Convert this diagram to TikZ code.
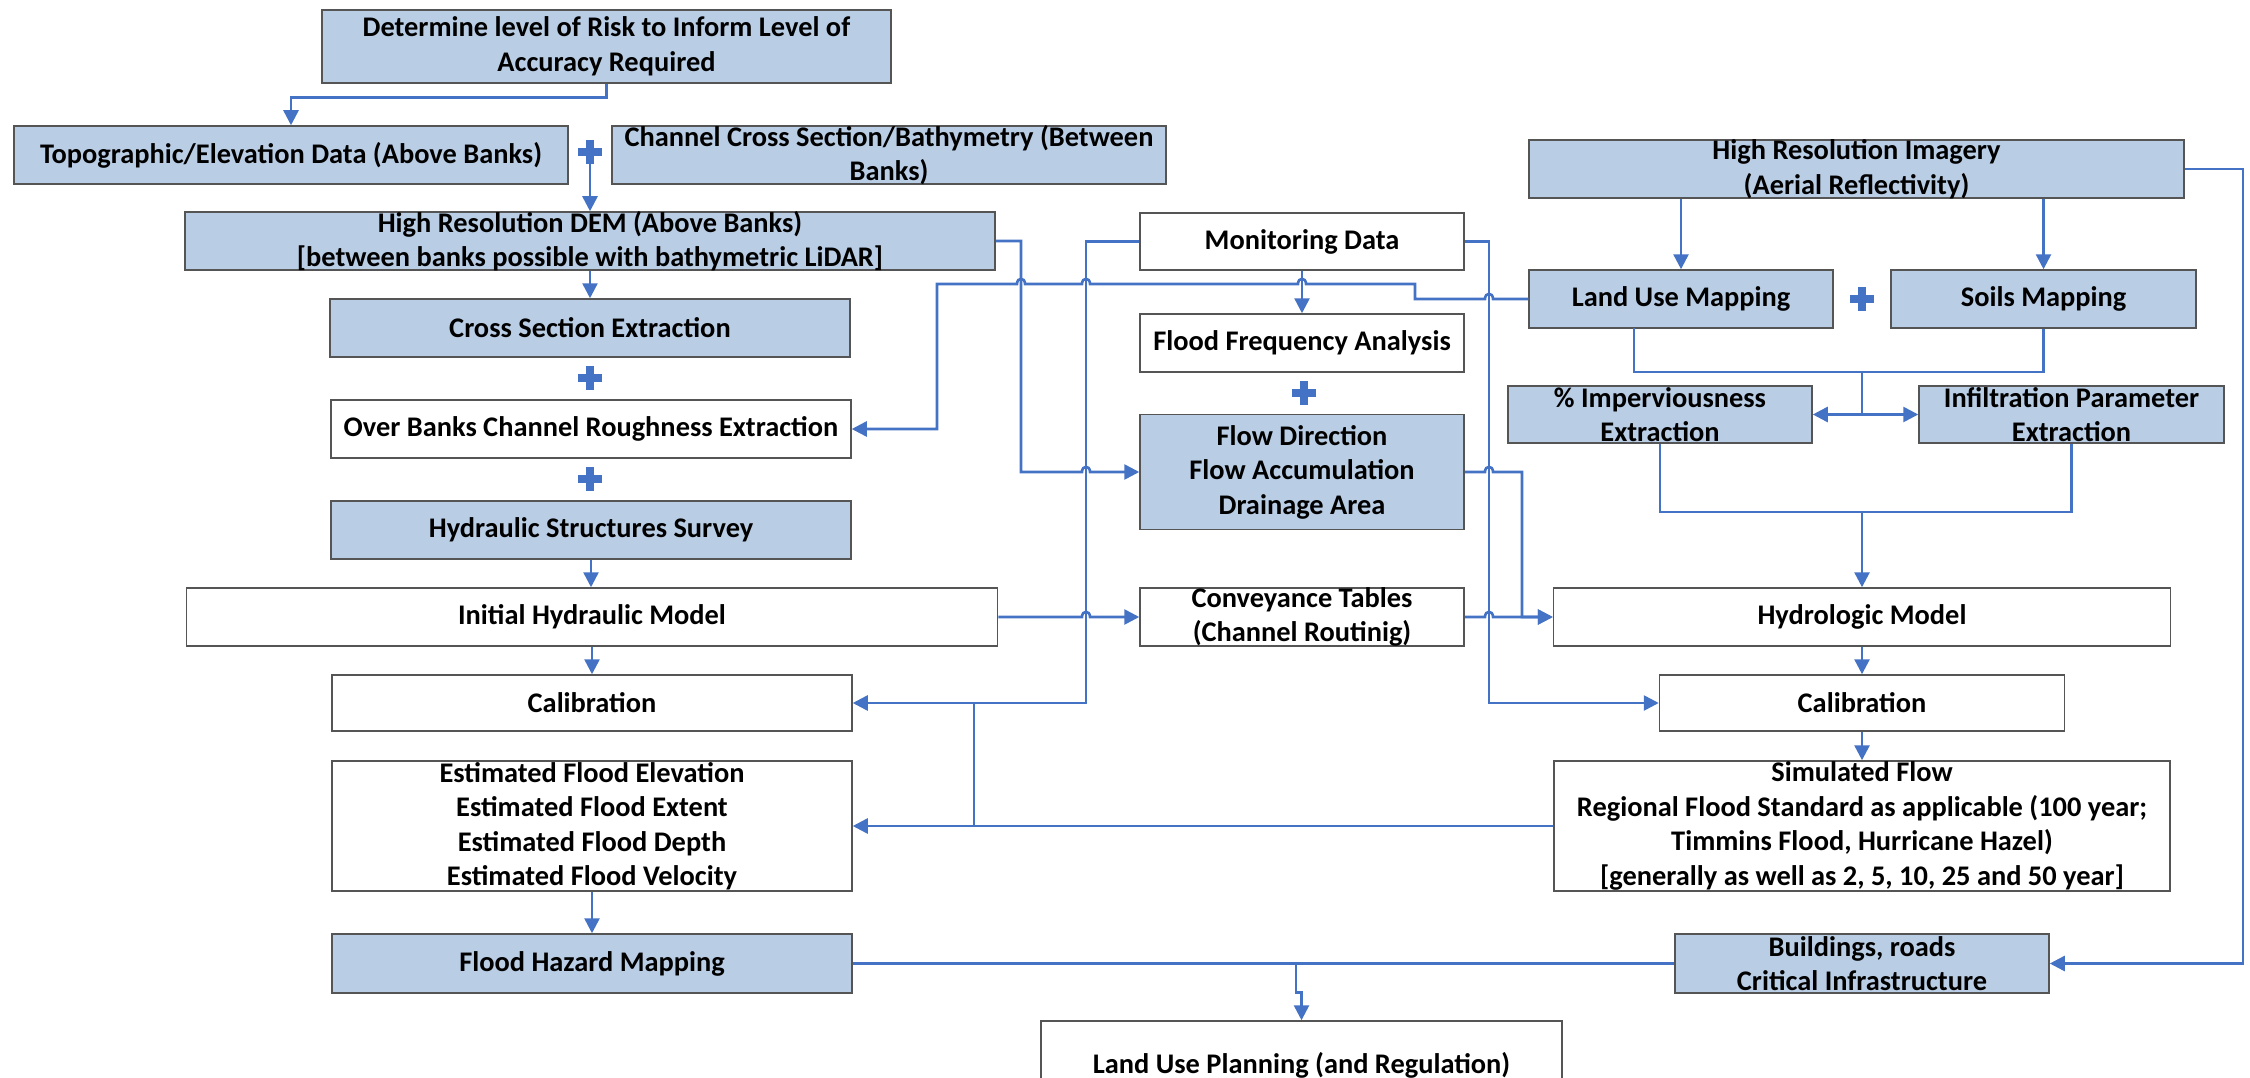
\documentclass[tikz,border=0pt]{standalone}
\usepackage{fontspec}
\setmainfont{Carlito}
\usetikzlibrary{arrows.meta,calc}
\definecolor{boxblue}{RGB}{185,205,229}
\definecolor{linkblue}{RGB}{68,114,196}
\definecolor{boxedge}{RGB}{85,85,85}
\newcommand{\hopl}[1]{-- ($(#1)+(4,0)$) .. controls +(0,-7) and +(0,-7) .. ($(#1)+(-4,0)$)}
\newcommand{\hopr}[1]{-- ($(#1)+(-4,0)$) .. controls +(0,-7) and +(0,-7) .. ($(#1)+(4,0)$)}

\begin{document}
\begin{tikzpicture}[x=1pt,y=-1pt,
	box/.style={draw=boxedge,line width=1.5pt,align=center,inner xsep=0pt,inner ysep=-3pt,font=\fontsize{28.4}{34.5}\selectfont\bfseries},
	bluebox/.style={box,fill=boxblue},
	whitebox/.style={box,fill=white},
	link/.style={draw=linkblue,line width=2.6pt},
	arr/.style={link,-{Triangle[width=15pt,length=15pt]}},
	arrs/.style={link,{Triangle[width=15pt,length=15pt]}-{Triangle[width=15pt,length=15pt]}},
	plusline/.style={draw=linkblue,line width=7.5pt}]
	\useasboundingbox (0,0) rectangle (2250,1078);
	\clip (0,0) rectangle (2250,1078);
	\node[bluebox,minimum width=569,minimum height=73] (R) at (606.5,46.5) {Determine level of Risk to Inform Level of\\Accuracy Required};
	\node[bluebox,minimum width=554,minimum height=58] (T) at (291,155) {Topographic/Elevation Data (Above Banks)};
	\node[bluebox,minimum width=554,minimum height=58] (C) at (889,155) {Channel Cross Section/Bathymetry (Between\\Banks)};
	\node[bluebox,minimum width=810,minimum height=58] (D) at (590,241) {High Resolution DEM (Above Banks)\\{[}between banks possible with bathymetric LiDAR{]}};
	\node[bluebox,minimum width=520,minimum height=58] (X) at (590,328) {Cross Section Extraction};
	\node[whitebox,minimum width=520,minimum height=58] (O) at (591,429) {Over Banks Channel Roughness Extraction};
	\node[bluebox,minimum width=520,minimum height=58] (S) at (591,530) {Hydraulic Structures Survey};
	\node[whitebox,minimum width=811,minimum height=58] (H) at (592,617) {Initial Hydraulic Model};
	\node[whitebox,minimum width=520,minimum height=56] (L1) at (592,703) {Calibration};
	\node[whitebox,minimum width=520,minimum height=130] (E) at (592,826) {Estimated Flood Elevation\\Estimated Flood Extent\\Estimated Flood Depth\\Estimated Flood Velocity};
	\node[bluebox,minimum width=520,minimum height=59] (F) at (592,963.5) {Flood Hazard Mapping};
	\node[whitebox,minimum width=521,minimum height=88] (P) at (1301.5,1065) {Land Use Planning (and Regulation)};
	\node[whitebox,minimum width=324,minimum height=57] (M) at (1302,241.5) {Monitoring Data};
	\node[whitebox,minimum width=324,minimum height=58] (Q) at (1302,343) {Flood Frequency Analysis};
	\node[bluebox,minimum width=324,minimum height=115] (W) at (1302,472) {Flow Direction\\Flow Accumulation\\Drainage Area};
	\node[whitebox,minimum width=324,minimum height=58] (V) at (1302,617) {Conveyance Tables\\(Channel Routinig)};
	\node[bluebox,minimum width=655,minimum height=58] (I) at (1856.5,169) {High Resolution Imagery\\(Aerial Reflectivity)};
	\node[bluebox,minimum width=304,minimum height=58] (U) at (1681,299) {Land Use Mapping};
	\node[bluebox,minimum width=305,minimum height=58] (G) at (2043.5,299) {Soils Mapping};
	\node[bluebox,minimum width=304,minimum height=57] (K) at (1660,414.5) {\% Imperviousness\\Extraction};
	\node[bluebox,minimum width=305,minimum height=57] (N) at (2071.5,414.5) {Infiltration Parameter\\Extraction};
	\node[whitebox,minimum width=617,minimum height=58] (Y) at (1862,617) {Hydrologic Model};
	\node[whitebox,minimum width=405,minimum height=56] (L2) at (1862,703) {Calibration};
	\node[whitebox,minimum width=616,minimum height=130] (Z) at (1862,826) {Simulated Flow\\Regional Flood Standard as applicable (100 year;\\Timmins Flood, Hurricane Hazel)\\{[}generally as well as 2, 5, 10, 25 and 50 year{]}};
	\node[bluebox,minimum width=374,minimum height=59] (B) at (1862,963.5) {Buildings, roads\\Critical Infrastructure};
	\coordinate (p1) at (590,152);
	\coordinate (p2) at (590,378);
	\coordinate (p3) at (590,479);
	\coordinate (p4) at (1304,393);
	\coordinate (p5) at (1862,299);
	\coordinate (v1) at (1021,0);
	\coordinate (v2) at (1086,0);
	\coordinate (v3) at (1302,0);
	\coordinate (v4) at (1489,0);
	\coordinate (v5) at (1522,0);
	\coordinate (i1) at (2243,0);
	\coordinate (d1) at (1021,472);
	\coordinate (m1) at (1086,703);
	\coordinate (m2) at (1489,703);
	\coordinate (j1) at (974,703);
	\coordinate (j2) at (974,826);
	\coordinate (u1) at (1415,299);
	\coordinate (u2) at (1415,284);
	\coordinate (u3) at (937,284);
	\coordinate (k1) at (1634,328);
	\coordinate (k2) at (1862,372);
	\coordinate (k3) at (1862,512);
	\coordinate (q1) at (1296,963.5);
	\draw[arr] (R.south) -- ++(0,14) -| (T.north);
	\draw[arr] (p1) -- (D.north);
	\draw[arr] (D.south) -- (X.north);
	\draw[arr] (S.south) -- (S.south |- H.north);
	\draw[arr] (H.south) -- (H.south |- L1.north);
	\draw[arr] (E.south) -- (F.north);
	\draw[arr] (D.east) -- (D.east -| d1) -- (d1) \hopr{v2 |- d1} -- (W.west);
	\draw[arr] (M.west) -- (M.west -| m1) -- (m1) -- (L1.east);
	\draw[link] (j1) -- (j2);
	\draw[arr] (Z.west) -- (E.east);
	\draw[arr] (M.east) -- (M.east -| m2) -- (m2) -- (L2.west);
	\draw[arr] (M.south) -- (Q.north);
	\draw[arr] (U.west) \hopl{v4 |- U.west} -- (u1) -- (u2) \hopl{v3 |- u2} \hopl{v2 |- u2} \hopl{v1 |- u2} -- (u3) |- (O.east);
	\draw[arr] (W.east) \hopr{v4 |- W.east} -- (W.east -| v5) |- (Y.west);
	\draw[arr] (H.east) \hopr{v2 |- H.east} -- (V.west);
	\draw[arr] (V.east) \hopr{v4 |- V.east} -- (Y.west);
	\draw[arr] (I.south -| U.north) -- (U.north);
	\draw[arr] (I.south -| G.north) -- (G.north);
	\draw[link] (k1) |- (k2 -| G.south) -- (G.south);
	\draw[link] (k2) -- (k2 |- K.east);
	\draw[arrs] (K.east) -- (N.west);
	\draw[link] (K.south) |- (k3 -| N.south) -- (N.south);
	\draw[arr] (k3) -- (Y.north);
	\draw[arr] (Y.south) -- (L2.north);
	\draw[arr] (L2.south) -- (Z.north);
	\draw[arr] (I.east) -- (I.east -| i1) |- (B.east);
	\draw[link] (F.east) -- (B.west);
	\draw[arr] (q1) -- ++(0,29) -| (P.north);
	\foreach \p in {p1,p2,p3,p4,p5}
		\draw[plusline] (\p) +(-12,0) -- +(12,0) (\p) +(0,-12) -- +(0,12);
\end{tikzpicture}
\end{document}
